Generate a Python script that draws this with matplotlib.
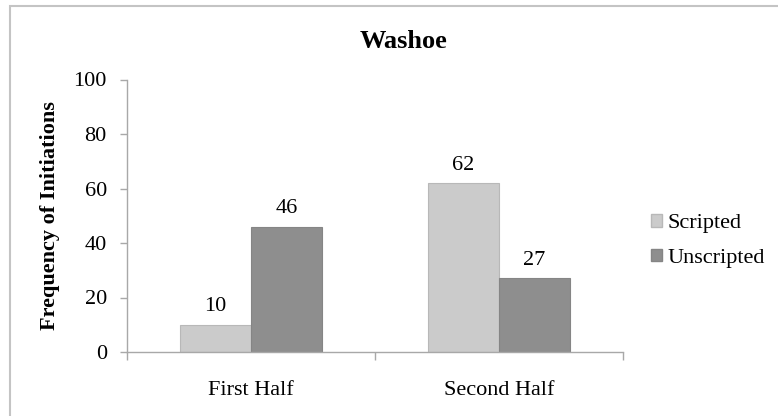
import matplotlib
matplotlib.use("Agg")
import matplotlib.pyplot as plt
from matplotlib.patches import Rectangle, Patch
import numpy as np

plt.rcParams['font.family'] = ['Liberation Serif', 'DejaVu Serif']

categories = ["First Half", "Second Half"]
series_names = ["Scripted", "Unscripted"]
scripted = [10, 62]
unscripted = [46, 27]
yticks = [0, 20, 40, 60, 80, 100]
title = "Washoe"
ylabel = "Frequency of Initiations"

colors = ["#cbcbcb", "#8e8e8e"]
edges = ["#b8b8b8", "#858585"]
axis_color = "#a8a8a8"

W, H = 778, 416
fig = plt.figure(figsize=(W / 100, H / 100), dpi=100)
ax = fig.add_axes([127 / W, (H - 352) / H, (623 - 127) / W, (352 - 79.5) / H])

x = np.arange(len(categories))
bw = 0.286
b1 = ax.bar(x - bw / 2, scripted, bw, color=colors[0], edgecolor=edges[0], linewidth=0.8, label=series_names[0])
b2 = ax.bar(x + bw / 2, unscripted, bw, color=colors[1], edgecolor=edges[1], linewidth=0.8, label=series_names[1])

for bars, vals in ((b1, scripted), (b2, unscripted)):
    for rect, v in zip(bars, vals):
        ax.annotate(str(v), (rect.get_x() + rect.get_width() / 2, v), xytext=(0, 6),
                    textcoords="offset points", ha="center", va="bottom", fontsize=16)

ax.set_xlim(-0.5, len(categories) - 0.5)
ax.set_ylim(0, 100)
ax.set_yticks(yticks)
ax.set_yticklabels([str(t) for t in yticks])
ax.set_xticks(np.arange(len(categories) + 1) - 0.5)
ax.set_xticklabels([])
ax.set_xticks(x, minor=True)
ax.set_xticklabels(categories, minor=True)
ax.tick_params(axis="x", which="major", direction="out", length=6, color=axis_color, width=1)
ax.tick_params(axis="x", which="minor", length=0, pad=21, labelsize=16)
ax.tick_params(axis="y", direction="out", length=5, color=axis_color, width=1, pad=9.5, labelsize=16)

for s in ("top", "right"):
    ax.spines[s].set_visible(False)
for s in ("left", "bottom"):
    ax.spines[s].set_color(axis_color)
    ax.spines[s].set_linewidth(1)

fig.text(404 / W, 1 - 42 / H, title, ha="center", va="center", fontsize=19, fontweight="bold")
fig.text(50 / W, 1 - 216 / H, ylabel, ha="center", va="center", rotation=90, fontsize=16, fontweight="bold")

handles = [Patch(facecolor=colors[0], edgecolor=edges[0]), Patch(facecolor=colors[1], edgecolor=edges[1])]
fig.legend(handles, series_names, loc="center left", bbox_to_anchor=(651 / W, 1 - 241 / H),
           frameon=False, fontsize=16, handlelength=0.5, handleheight=0.5, handletextpad=0.25,
           labelspacing=0.7, borderpad=0, borderaxespad=0)

fig.patches.append(Rectangle((10 / W, -1), 2, 2 - 6 / H, transform=fig.transFigure, fill=False,
                             edgecolor="#c4c4c4", linewidth=1.5, zorder=0))

fig.savefig("out.png", dpi=100, facecolor="white")
